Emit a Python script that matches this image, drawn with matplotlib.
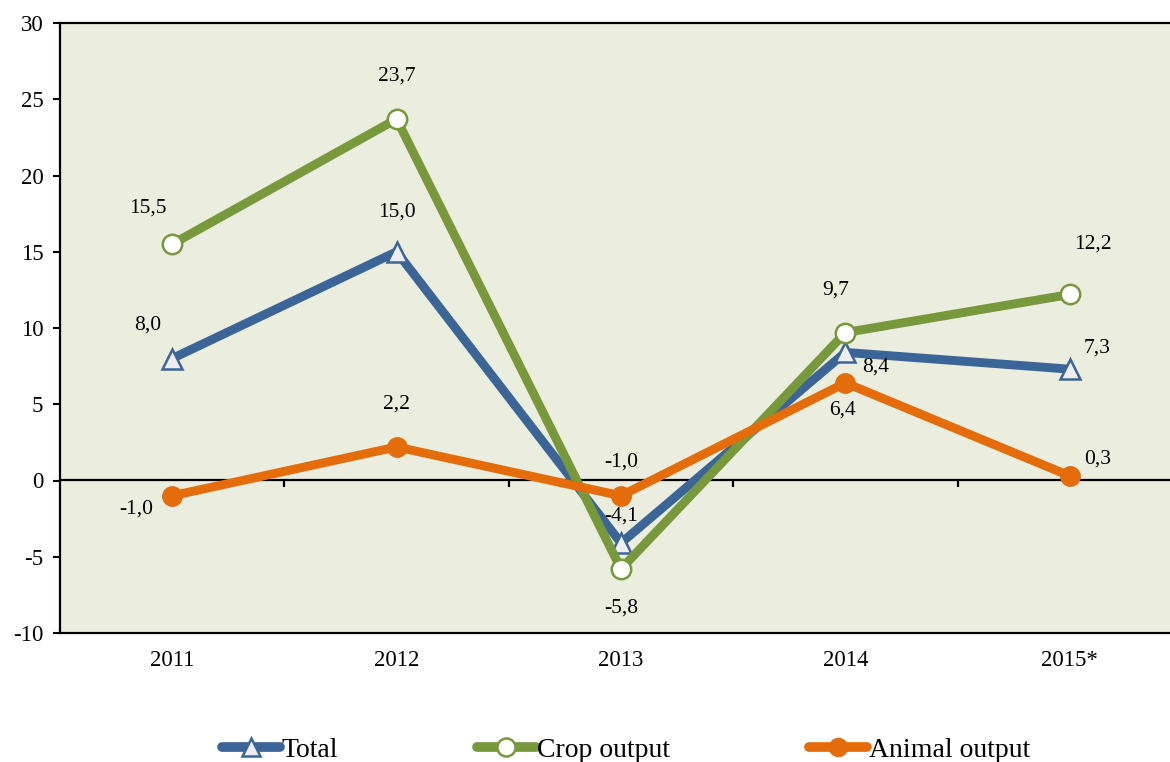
import matplotlib
matplotlib.use("Agg")
import matplotlib.pyplot as plt
from matplotlib.lines import Line2D

plt.rcParams['font.family'] = ['Liberation Serif', 'DejaVu Serif']

years = ["2011", "2012", "2013", "2014", "2015*"]
total = [8.0, 15.0, -4.1, 8.4, 7.3]
crop = [15.5, 23.7, -5.8, 9.7, 12.2]
animal = [-1.0, 2.2, -1.0, 6.4, 0.3]
yticks = [-10, -5, 0, 5, 10, 15, 20, 25, 30]

# label offsets in pixels (style only)
off_total = [(-25, 33), (0, 40), (0, 27), (30, -15), (27, 21)]
off_crop = [(-24, 36), (0, 43), (0, -39), (-10, 43), (23, 50)]
off_animal = [(-36, -13), (0, 43), (0, 34), (-3, -27), (28, 17)]

c_total = '#3B6597'
c_crop = '#77993B'
c_animal = '#E46C0A'

W, H = 1170, 762
fig = plt.figure(figsize=(W / 100, H / 100), dpi=100)
ax = fig.add_axes([60 / W, 1 - 633 / H, 1122 / W, 610 / H])
ax.set_facecolor('#EBEEDE')

LW = 6.4
MS = 14
x = list(range(len(years)))
ax.plot(x, total, color=c_total, lw=LW, marker='^', ms=MS, mfc='#EEEEF2',
        mec=c_total, mew=1.8, zorder=3, solid_capstyle='round')
ax.plot(x, crop, color=c_crop, lw=LW, marker='o', ms=MS, mfc='white',
        mec=c_crop, mew=1.8, zorder=4, solid_capstyle='round')
ax.plot(x, animal, color=c_animal, lw=LW, marker='o', ms=MS, mfc=c_animal,
        mec=c_animal, mew=1.0, zorder=5, solid_capstyle='round')

def fmt(v):
    return f"{v:.1f}".replace('.', ',')

for vals, offs in ((total, off_total), (crop, off_crop), (animal, off_animal)):
    for xi, v, (dx, dy) in zip(x, vals, offs):
        ax.annotate(fmt(v), (xi, v), xytext=(dx, dy), textcoords='offset pixels',
                    ha='center', va='center', fontsize=15.5, color='black', zorder=6)

ax.set_xlim(-0.5, len(years) - 0.5)
ax.set_ylim(yticks[0], yticks[-1])
ax.set_yticks(yticks)
ax.set_yticklabels([str(t) for t in yticks])
ax.set_xticks(x)
ax.set_xticklabels(years)
ax.tick_params(axis='x', length=0, pad=12, labelsize=16.5)
ax.tick_params(axis='y', length=5, width=1.5, pad=7, labelsize=16.5, direction='out')
for s in ax.spines.values():
    s.set_color('black')
    s.set_linewidth(1.6)

# zero line with category-boundary ticks
sec = ax.secondary_xaxis((0 - yticks[0]) / (yticks[-1] - yticks[0]))
sec.set_xticks([i - 0.5 for i in range(1, len(years))])
sec.set_xticklabels([])
sec.tick_params(length=5, width=1.6, direction='out')
sec.spines['bottom'].set_linewidth(1.6)
sec.spines['bottom'].set_color('black')

handles = [
    Line2D([], [], color=c_total, lw=7, marker='^', ms=13, mfc='#EEEEF2', mec=c_total, mew=1.8, solid_capstyle='round'),
    Line2D([], [], color=c_crop, lw=7, marker='o', ms=13, mfc='white', mec=c_crop, mew=1.8, solid_capstyle='round'),
    Line2D([], [], color=c_animal, lw=7, marker='o', ms=13, mfc=c_animal, mec=c_animal, solid_capstyle='round'),
]
labels = ["Total", "Crop output", "Animal output"]
fig.legend(handles, labels, loc='center', bbox_to_anchor=(626 / W, 1 - 750 / H),
           ncol=3, frameon=False, fontsize=20, handlelength=2.1, handletextpad=0.05,
           columnspacing=5.0, borderpad=0)

fig.savefig('out.png', dpi=100)
